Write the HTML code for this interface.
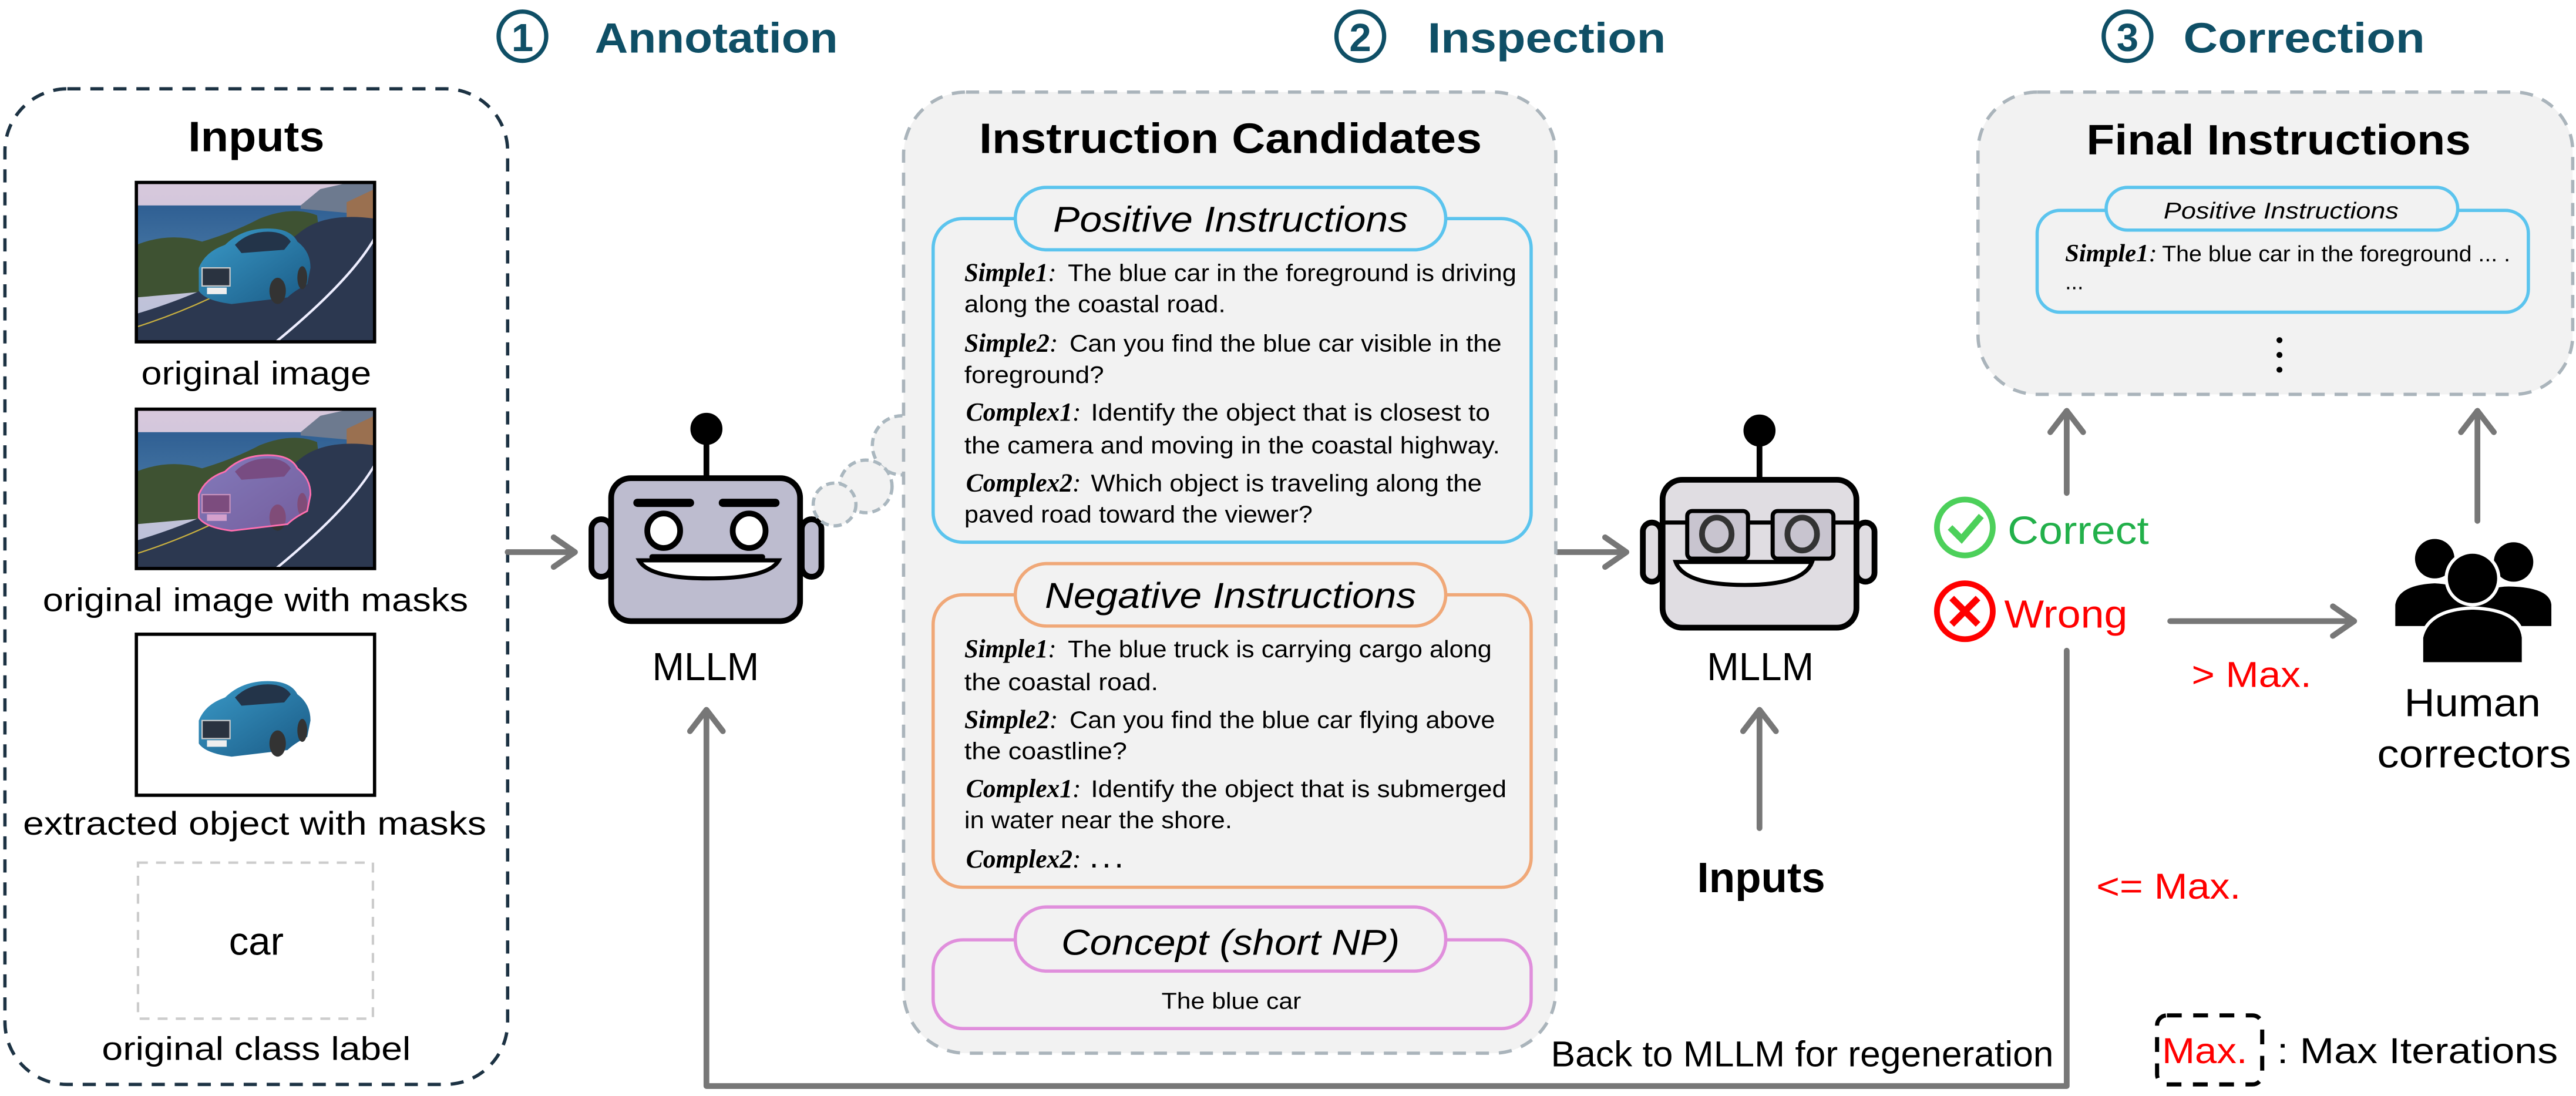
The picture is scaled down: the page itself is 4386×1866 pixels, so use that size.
<!DOCTYPE html>
<html><head><meta charset="utf-8"><style>html,body{margin:0;padding:0;background:#fff}svg{display:block}</style></head>
<body>
<svg xmlns="http://www.w3.org/2000/svg" width="4386" height="1866" viewBox="0 0 1568 667" font-family="Liberation Sans, DejaVu Sans, sans-serif">
<defs>
<linearGradient id="sky" x1="0" y1="0" x2="0" y2="1"><stop offset="0" stop-color="#d8c8dc"/><stop offset="1" stop-color="#b7c0d8"/></linearGradient>
<linearGradient id="sea" x1="0" y1="0" x2="0" y2="1"><stop offset="0" stop-color="#2f5f93"/><stop offset="1" stop-color="#4a7aa6"/></linearGradient>
<linearGradient id="carg" x1="0" y1="0" x2="1" y2="1"><stop offset="0" stop-color="#3a9ac8"/><stop offset="1" stop-color="#1a5a85"/></linearGradient>
<g id="car">
<path d="M38 52 Q42 42 54 38 Q64 28 80 28 Q94 28 98 36 Q106 42 106 52 L104 62 Q96 66 92 70 L58 74 Q42 72 38 66 Z" fill="url(#carg)"/>
<path d="M60 38 Q68 30 80 30 Q90 30 94 36 L90 41 L64 43 Z" fill="#233449"/>
<rect x="40" y="52" width="17" height="11" fill="#2a3340" stroke="#ccc" stroke-width="0.8"/>
<rect x="43" y="64" width="12" height="4" fill="#eee"/>
<ellipse cx="86" cy="66" rx="5" ry="8" fill="#333"/><ellipse cx="101" cy="58" rx="3" ry="7" fill="#333"/>
</g>
<g id="photo">
<rect x="0" y="0" width="145" height="97" fill="url(#sky)"/>
<rect x="0" y="14" width="145" height="40" fill="url(#sea)"/>
<path d="M100 14 L112 4 L130 0 L145 0 L145 20 L100 16 Z" fill="#6d7a8f"/>
<path d="M128 12 L145 4 L145 30 L128 28 Z" fill="#9a7050"/>
<path d="M0 38 Q20 30 40 36 Q60 30 75 22 Q95 14 110 20 L115 60 L0 70 Z" fill="#3e5232"/>
<path d="M0 80 Q60 62 100 30 Q115 18 145 22 L145 97 L0 97 Z" fill="#2c3850"/>
<path d="M85 97 Q130 60 145 34" stroke="#eef" stroke-width="1.5" fill="none"/>
<path d="M0 88 Q50 72 90 45" stroke="#c9b040" stroke-width="0.8" fill="none"/>
<use href="#car"/>
</g>
</defs>

<!-- Titles -->
<g fill="none" stroke="#0f4f66" stroke-width="2.6">
<ellipse cx="318" cy="22" rx="14.5" ry="15"/><ellipse cx="828" cy="22" rx="14.5" ry="15"/><ellipse cx="1295" cy="22" rx="14.5" ry="15"/>
</g>
<g fill="#0f4f66" font-weight="bold">
<text x="318" y="31" font-size="24" text-anchor="middle">1</text>
<text x="828" y="31" font-size="24" text-anchor="middle">2</text>
<text x="1295" y="31" font-size="24" text-anchor="middle">3</text>
<text x="362" y="32" font-size="26" textLength="148" lengthAdjust="spacingAndGlyphs">Annotation</text>
<text x="869" y="32" font-size="26" textLength="145" lengthAdjust="spacingAndGlyphs">Inspection</text>
<text x="1329" y="32" font-size="26" textLength="147" lengthAdjust="spacingAndGlyphs">Correction</text>
</g>

<!-- Left inputs box -->
<rect x="3" y="54" width="306" height="606" rx="38" fill="none" stroke="#1c3243" stroke-width="2" stroke-dasharray="8,6"/>
<text x="156" y="92" font-size="26" font-weight="bold" text-anchor="middle" textLength="83" lengthAdjust="spacingAndGlyphs">Inputs</text>
<svg x="83" y="111" width="145" height="97" viewBox="0 0 145 97"><use href="#photo"/></svg>
<rect x="83" y="111" width="145" height="97" fill="none" stroke="#000" stroke-width="2"/>
<text x="86" y="234" font-size="20" textLength="140" lengthAdjust="spacingAndGlyphs">original image</text>
<svg x="83" y="249" width="145" height="97" viewBox="0 0 145 97"><use href="#photo"/>
<path d="M38 52 Q42 42 54 38 Q64 28 80 28 Q94 28 98 36 Q106 42 106 52 L104 62 Q96 66 92 70 L58 74 Q42 72 38 66 Z" fill="#c060b0" fill-opacity="0.55" stroke="#ff6fb0" stroke-width="1"/></svg>
<rect x="83" y="249" width="145" height="97" fill="none" stroke="#000" stroke-width="2"/>
<text x="26" y="372" font-size="20" textLength="259" lengthAdjust="spacingAndGlyphs">original image with masks</text>
<rect x="83" y="386" width="145" height="98" fill="#fff" stroke="#000" stroke-width="2"/>
<svg x="83" y="386" width="145" height="98" viewBox="0 0 145 97"><use href="#car"/></svg>
<text x="14" y="508" font-size="20" textLength="282" lengthAdjust="spacingAndGlyphs">extracted object with masks</text>
<rect x="84" y="525" width="143" height="95" fill="none" stroke="#ccc" stroke-width="1.5" stroke-dasharray="6,5"/>
<text x="156" y="581" font-size="24" text-anchor="middle">car</text>
<text x="62" y="645" font-size="20" textLength="188" lengthAdjust="spacingAndGlyphs">original class label</text>

<!-- arrows -->
<g stroke="#777" stroke-width="3.5" fill="none" stroke-linecap="round" stroke-linejoin="round">
<line x1="309" y1="336" x2="349" y2="336"/><polyline points="337,327 350,336 337,345"/>
<line x1="948" y1="336" x2="989" y2="336"/><polyline points="977,327 990,336 977,345"/>
<line x1="1071" y1="504" x2="1071" y2="433"/><polyline points="1061,445 1071,432 1081,445"/>
<polyline points="1258,396 1258,661 430,661 430,434"/><polyline points="420,445 430,432 440,445"/>
<line x1="1258" y1="300" x2="1258" y2="252"/><polyline points="1248,263 1258,250 1268,263"/>
<line x1="1321" y1="378" x2="1432" y2="378"/><polyline points="1420,369 1433,378 1420,387"/>
<line x1="1508" y1="317" x2="1508" y2="252"/><polyline points="1498,263 1508,250 1518,263"/>
</g>

<!-- Robot 1 -->
<g stroke="#000" stroke-width="3.5">
<line x1="430" y1="262" x2="430" y2="292"/>
<circle cx="430" cy="261" r="8" fill="#000"/>
<rect x="360" y="316" width="12" height="35" rx="6" fill="#bdbccf"/>
<rect x="488" y="316" width="12" height="35" rx="6" fill="#bdbccf"/>
<rect x="372" y="291" width="115" height="87" rx="12" fill="#bdbccf"/>
<ellipse cx="404" cy="323" rx="10" ry="10.5" fill="#fff"/>
<ellipse cx="456" cy="323" rx="10" ry="10.5" fill="#fff"/>
<path d="M389 341 L474 341 Q468 352 431 352 Q395 352 389 341 Z" fill="#fff" stroke-width="2.5"/>
</g>
<g stroke="#000" stroke-width="5" stroke-linecap="round">
<line x1="388" y1="306" x2="420" y2="306"/><line x1="440" y1="306" x2="472" y2="306"/>
</g>
<line x1="397" y1="339" x2="464" y2="339" stroke="#000" stroke-width="3.5" stroke-linecap="round"/>
<text x="397" y="414" font-size="24" textLength="65" lengthAdjust="spacingAndGlyphs">MLLM</text>
<g fill="#f2f2f2" stroke="#aab7bf" stroke-width="2" stroke-dasharray="5,3">
<circle cx="549" cy="271" r="18"/><circle cx="527" cy="296" r="16"/><circle cx="508" cy="307" r="13"/>
</g>

<!-- Middle box -->
<rect x="550" y="56" width="397" height="585" rx="38" fill="#f2f2f2" stroke="#aab4bb" stroke-width="2" stroke-dasharray="8,6"/>
<text x="596" y="93" font-size="26" font-weight="bold" textLength="306" lengthAdjust="spacingAndGlyphs">Instruction Candidates</text>

<rect x="568" y="133" width="364" height="197" rx="18" fill="none" stroke="#5bc4ee" stroke-width="2"/>
<rect x="618" y="114" width="262" height="38" rx="19" fill="#f2f2f2" stroke="#5bc4ee" stroke-width="2"/>
<text x="641" y="141" font-size="22" font-style="italic" textLength="216" lengthAdjust="spacingAndGlyphs">Positive Instructions</text>

<rect x="568" y="362" width="364" height="178" rx="18" fill="none" stroke="#f0a878" stroke-width="2"/>
<rect x="618" y="343" width="262" height="38" rx="19" fill="#f2f2f2" stroke="#f0a878" stroke-width="2"/>
<text x="636" y="370" font-size="22" font-style="italic" textLength="226" lengthAdjust="spacingAndGlyphs">Negative Instructions</text>

<rect x="568" y="572" width="364" height="54" rx="18" fill="none" stroke="#e08fdc" stroke-width="2"/>
<rect x="618" y="552" width="262" height="39" rx="19" fill="#f2f2f2" stroke="#e08fdc" stroke-width="2"/>
<text x="646" y="581" font-size="22" font-style="italic" textLength="206" lengthAdjust="spacingAndGlyphs">Concept (short NP)</text>
<text x="707" y="614" font-size="14" textLength="85" lengthAdjust="spacingAndGlyphs">The blue car</text>

<g font-size="14.5">
<g font-family="Liberation Serif, serif" font-style="italic" font-weight="bold" font-size="16">
<text x="587" y="171" textLength="56" lengthAdjust="spacingAndGlyphs">Simple1<tspan font-weight="normal">:</tspan></text>
<text x="587" y="214" textLength="57" lengthAdjust="spacingAndGlyphs">Simple2<tspan font-weight="normal">:</tspan></text>
<text x="588" y="256" textLength="70" lengthAdjust="spacingAndGlyphs">Complex1<tspan font-weight="normal">:</tspan></text>
<text x="588" y="299" textLength="70" lengthAdjust="spacingAndGlyphs">Complex2<tspan font-weight="normal">:</tspan></text>
<text x="587" y="400" textLength="56" lengthAdjust="spacingAndGlyphs">Simple1<tspan font-weight="normal">:</tspan></text>
<text x="587" y="443" textLength="57" lengthAdjust="spacingAndGlyphs">Simple2<tspan font-weight="normal">:</tspan></text>
<text x="588" y="485" textLength="70" lengthAdjust="spacingAndGlyphs">Complex1<tspan font-weight="normal">:</tspan></text>
<text x="588" y="528" textLength="70" lengthAdjust="spacingAndGlyphs">Complex2<tspan font-weight="normal">:</tspan></text>
</g>
<text x="650" y="171" textLength="273" lengthAdjust="spacingAndGlyphs">The blue car in the foreground is driving</text>
<text x="587" y="190" textLength="159" lengthAdjust="spacingAndGlyphs">along the coastal road.</text>
<text x="651" y="214" textLength="263" lengthAdjust="spacingAndGlyphs">Can you find the blue car visible in the</text>
<text x="587" y="233" textLength="85" lengthAdjust="spacingAndGlyphs">foreground?</text>
<text x="664" y="256" textLength="243" lengthAdjust="spacingAndGlyphs">Identify the object that is closest to</text>
<text x="587" y="276" textLength="326" lengthAdjust="spacingAndGlyphs">the camera and moving in the coastal highway.</text>
<text x="664" y="299" textLength="238" lengthAdjust="spacingAndGlyphs">Which object is traveling along the</text>
<text x="587" y="318" textLength="212" lengthAdjust="spacingAndGlyphs">paved road toward the viewer?</text>
<text x="650" y="400" textLength="258" lengthAdjust="spacingAndGlyphs">The blue truck is carrying cargo along</text>
<text x="587" y="420" textLength="118" lengthAdjust="spacingAndGlyphs">the coastal road.</text>
<text x="651" y="443" textLength="259" lengthAdjust="spacingAndGlyphs">Can you find the blue car flying above</text>
<text x="587" y="462" textLength="99" lengthAdjust="spacingAndGlyphs">the coastline?</text>
<text x="664" y="485" textLength="253" lengthAdjust="spacingAndGlyphs">Identify the object that is submerged</text>
<text x="587" y="504" textLength="163" lengthAdjust="spacingAndGlyphs">in water near the shore.</text>
<text x="664" y="528" textLength="19" lengthAdjust="spacingAndGlyphs" font-weight="bold">. . .</text>
</g>

<!-- Robot 2 -->
<g stroke="#000" stroke-width="3.5">
<line x1="1071" y1="262" x2="1071" y2="292"/>
<circle cx="1071" cy="262" r="8" fill="#000"/>
<rect x="1000" y="318" width="11" height="36" rx="5.5" fill="#e0dde2"/>
<rect x="1130" y="318" width="11" height="36" rx="5.5" fill="#e0dde2"/>
<rect x="1012" y="292" width="118" height="90" rx="12" fill="#e0dde2"/>
<line x1="1012" y1="318" x2="1130" y2="318" stroke-width="2.5"/>
<rect x="1027" y="311" width="37" height="29" rx="3" fill="#c8c4cf" stroke-width="2.5"/>
<rect x="1079" y="311" width="37" height="29" rx="3" fill="#c8c4cf" stroke-width="2.5"/>
<path d="M1020 342 L1103 342 Q1098 356 1062 356 Q1025 356 1020 342 Z" fill="#fff" stroke-width="2.5"/>
</g>
<g fill="none" stroke="#333" stroke-width="3.5">
<ellipse cx="1045" cy="325" rx="9" ry="10"/><ellipse cx="1097" cy="325" rx="9" ry="10"/>
</g>
<text x="1039" y="414" font-size="24" textLength="65" lengthAdjust="spacingAndGlyphs">MLLM</text>
<text x="1072" y="543" font-size="26" font-weight="bold" text-anchor="middle">Inputs</text>

<!-- Correct / Wrong -->
<circle cx="1196" cy="321" r="17" fill="none" stroke="#4cd05a" stroke-width="3.5"/>
<polyline points="1187,321 1194,328 1206,314" fill="none" stroke="#4cd05a" stroke-width="4"/>
<text x="1222" y="331" font-size="24" fill="#22b04a" textLength="86" lengthAdjust="spacingAndGlyphs">Correct</text>
<circle cx="1196" cy="372" r="17" fill="none" stroke="#f00" stroke-width="3.5"/>
<g stroke="#f00" stroke-width="4"><line x1="1188" y1="364" x2="1204" y2="380"/><line x1="1204" y1="364" x2="1188" y2="380"/></g>
<text x="1220" y="382" font-size="24" fill="#f00" textLength="75" lengthAdjust="spacingAndGlyphs">Wrong</text>
<text x="1334" y="418" font-size="22" fill="#f00" textLength="73" lengthAdjust="spacingAndGlyphs">&gt; Max.</text>
<text x="1276" y="547" font-size="22" fill="#f00" textLength="88" lengthAdjust="spacingAndGlyphs">&lt;= Max.</text>

<!-- Human icon -->
<g fill="#000">
<circle cx="1482" cy="340" r="12"/><circle cx="1530" cy="342" r="12"/>
<path d="M1458 381 L1458 368 Q1460 356 1482 355 Q1500 356 1505 365 L1510 365 Q1515 356 1530 357 Q1552 358 1553 368 L1553 381 Z"/>
<path d="M1474 404 L1474 388 Q1478 371 1505 370 Q1534 371 1536 388 L1536 404 Z" stroke="#fff" stroke-width="2"/>
<circle cx="1505" cy="352" r="16" stroke="#fff" stroke-width="2"/>
</g>
<text x="1505" y="436" font-size="24" text-anchor="middle" textLength="83" lengthAdjust="spacingAndGlyphs">Human</text>
<text x="1506" y="467" font-size="24" text-anchor="middle" textLength="118" lengthAdjust="spacingAndGlyphs">correctors</text>

<!-- Final box -->
<rect x="1204" y="56" width="362" height="184" rx="36" fill="#f2f2f2" stroke="#aab4bb" stroke-width="2" stroke-dasharray="8,6"/>
<text x="1270" y="94" font-size="26" font-weight="bold" textLength="234" lengthAdjust="spacingAndGlyphs">Final Instructions</text>
<rect x="1240" y="128" width="299" height="62" rx="14" fill="none" stroke="#5bc4ee" stroke-width="2"/>
<rect x="1282" y="114" width="214" height="26" rx="13" fill="#f2f2f2" stroke="#5bc4ee" stroke-width="2"/>
<text x="1317" y="133" font-size="14" font-style="italic" textLength="143" lengthAdjust="spacingAndGlyphs">Positive Instructions</text>
<text x="1257" y="159" font-size="15" font-family="Liberation Serif, serif" font-style="italic" font-weight="bold" textLength="56" lengthAdjust="spacingAndGlyphs">Simple1<tspan font-weight="normal">:</tspan></text>
<text x="1316" y="159" font-size="13.5" textLength="212" lengthAdjust="spacingAndGlyphs">The blue car in the foreground ... .</text>
<text x="1257" y="176" font-size="13.5">...</text>
<g fill="#000"><circle cx="1387.5" cy="207" r="1.8"/><circle cx="1387.5" cy="216" r="1.8"/><circle cx="1387.5" cy="225" r="1.8"/></g>

<!-- bottom label & legend -->
<text x="944" y="649" font-size="22" textLength="306" lengthAdjust="spacingAndGlyphs">Back to MLLM for regeneration</text>
<rect x="1313" y="618" width="64" height="42" rx="6" fill="none" stroke="#000" stroke-width="2.5" stroke-dasharray="9,7"/>
<text x="1316" y="647" font-size="22" fill="#f00" textLength="52" lengthAdjust="spacingAndGlyphs">Max.</text>
<text x="1386" y="647" font-size="22" textLength="171" lengthAdjust="spacingAndGlyphs">: Max Iterations</text>
</svg>
</body></html>
